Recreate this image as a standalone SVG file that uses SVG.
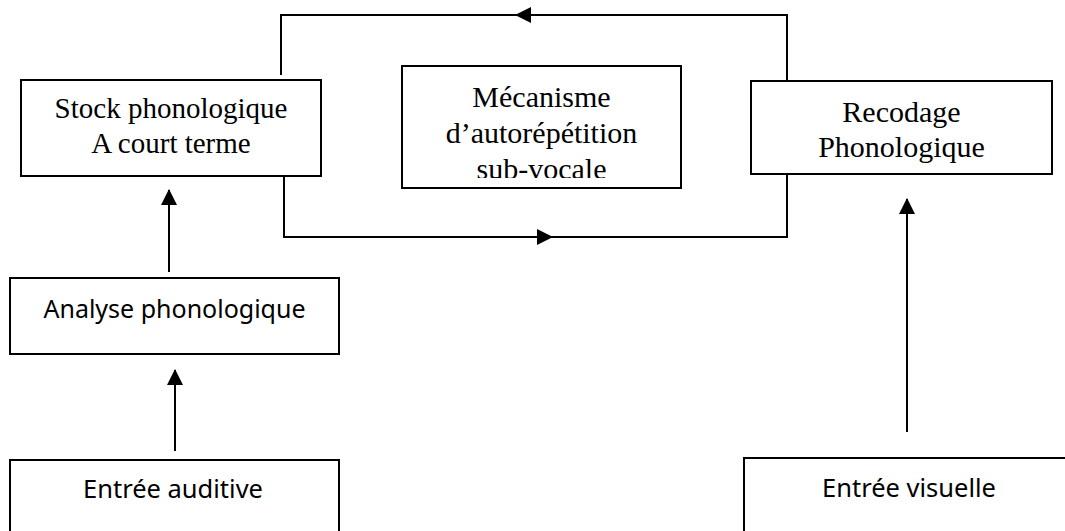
<svg xmlns="http://www.w3.org/2000/svg" width="1065" height="531" viewBox="0 0 1065 531">
  <style>
    .box { fill: #ffffff; stroke: #000000; stroke-width: 2; }
    .serif { font-family: "Liberation Serif", "Times New Roman", serif; font-size: 30px; fill: #000; text-anchor: middle; }
    .sans { font-family: "Noto Sans", "Open Sans", sans-serif; font-size: 25.5px; fill: #000; text-anchor: middle; }
    .conn { fill: none; stroke: #000000; stroke-width: 2; }
  </style>
  <defs>
    <marker id="arrow" markerUnits="userSpaceOnUse" markerWidth="16" markerHeight="16" refX="15" refY="8" orient="auto">
      <path d="M0,0 L16,8 L0,16 z" fill="#000"/>
    </marker>
    <clipPath id="clipMeca">
      <rect x="402" y="66" width="279" height="112"/>
    </clipPath>
  </defs>
  <rect width="1065" height="531" fill="#ffffff"/>

  <g id="connectors">
    <path class="conn" d="M787,81 V15 H516" marker-end="url(#arrow)"/>
    <path class="conn" d="M518,15 H281 V75"/>
    <path class="conn" d="M284,176 V237 H552" marker-end="url(#arrow)"/>
    <path class="conn" d="M550,237 H787 V174"/>
    <path class="conn" d="M169,272 V190" marker-end="url(#arrow)"/>
    <path class="conn" d="M175,451 V370" marker-end="url(#arrow)"/>
    <path class="conn" d="M907,432 V199" marker-end="url(#arrow)"/>
  </g>

  <g id="stock">
    <rect class="box" x="21" y="80" width="300" height="96"/>
    <text class="serif" x="171" y="118" style="font-size:29px">Stock phonologique</text>
    <text class="serif" x="171" y="153" style="font-size:29px">A court terme</text>
  </g>

  <g id="mecanisme">
    <rect class="box" x="402" y="66" width="279" height="122"/>
    <g clip-path="url(#clipMeca)">
      <text class="serif" x="541.5" y="107">Mécanisme</text>
      <text class="serif" x="541.5" y="143">d’autorépétition</text>
      <text class="serif" x="541.5" y="179">sub-vocale</text>
    </g>
  </g>

  <g id="recodage">
    <rect class="box" x="751" y="81" width="301" height="93"/>
    <text class="serif" x="901.5" y="122">Recodage</text>
    <text class="serif" x="901.5" y="157">Phonologique</text>
  </g>

  <g id="analyse">
    <rect class="box" x="10" y="278" width="329" height="76"/>
    <text class="sans" x="174.5" y="318" style="font-size:25px">Analyse phonologique</text>
  </g>

  <g id="entree-auditive">
    <rect class="box" x="10" y="460" width="329" height="90"/>
    <text class="sans" x="173" y="498">Entrée auditive</text>
  </g>

  <g id="entree-visuelle">
    <rect class="box" x="744" y="458" width="340" height="92"/>
    <text class="sans" x="909" y="497">Entrée visuelle</text>
  </g>
</svg>
